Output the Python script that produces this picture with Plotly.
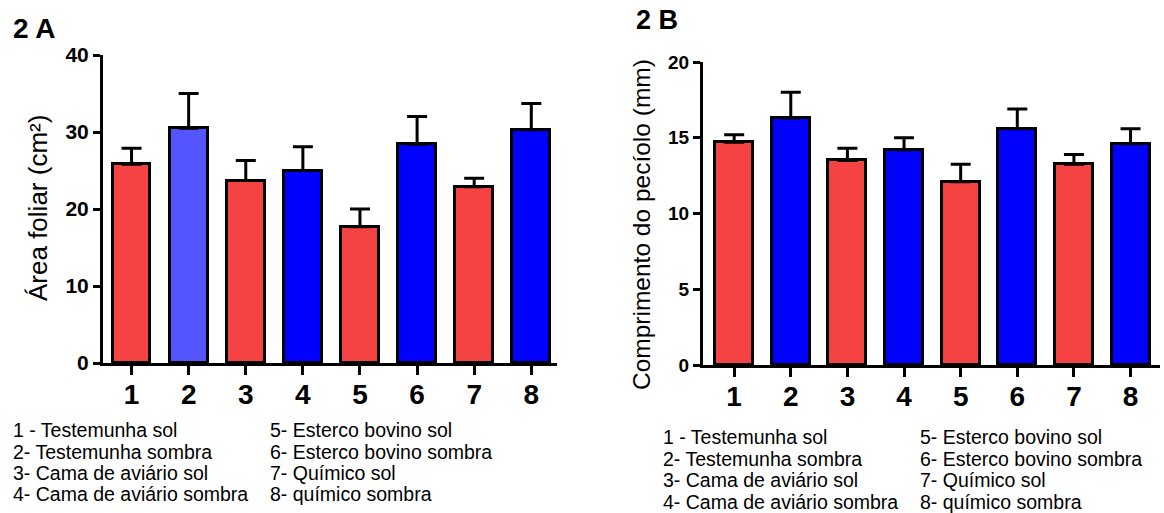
import plotly.graph_objects as go

W, H = 1164, 513

categories = [1, 2, 3, 4, 5, 6, 7, 8]
tick_labels = ["1", "2", "3", "4", "5", "6", "7", "8"]

# Panel A: leaf area (cm2), mean and upper error (SEM)
area_mean = [25.8, 30.5, 23.7, 25.0, 17.7, 28.4, 22.9, 30.3]
area_err = [2.1, 4.5, 2.6, 3.1, 2.3, 3.6, 1.1, 3.4]
area_colors = ["#F54242", "#5555FF", "#F54242", "#0000FF",
               "#F54242", "#0000FF", "#F54242", "#0000FF"]

# Panel B: petiole length (mm)
pet_mean = [14.7, 16.3, 13.5, 14.2, 12.1, 15.6, 13.25, 14.6]
pet_err = [0.5, 1.7, 0.8, 0.8, 1.15, 1.3, 0.65, 1.0]
pet_colors = ["#F54242", "#0000FF", "#F54242", "#0000FF",
              "#F54242", "#0000FF", "#F54242", "#0000FF"]

legend_left = ["1 - Testemunha sol", "2- Testemunha sombra",
               "3- Cama de aviário sol", "4- Cama de aviário sombra"]
legend_right = ["5- Esterco bovino sol", "6- Esterco bovino sombra",
                "7- Químico sol", "8- químico sombra"]

FONT = "Liberation Sans, Arial, sans-serif"


def px(x):
    return x / W


def py(y):
    return 1 - y / H


fig = go.Figure()

fig.add_trace(go.Bar(
    x=categories, y=area_mean, width=0.66,
    marker=dict(color=area_colors, line=dict(color="black", width=3)),
    error_y=dict(type="data", symmetric=False, array=area_err,
                 arrayminus=[0] * 8, color="black", thickness=3, width=10),
    xaxis="x", yaxis="y", showlegend=False))

fig.add_trace(go.Bar(
    x=categories, y=pet_mean, width=0.67,
    marker=dict(color=pet_colors, line=dict(color="black", width=3)),
    error_y=dict(type="data", symmetric=False, array=pet_err,
                 arrayminus=[0] * 8, color="black", thickness=3, width=10),
    xaxis="x2", yaxis="y2", showlegend=False))

xcommon = dict(tickmode="array", tickvals=categories, ticktext=tick_labels,
               showline=True, linecolor="black", linewidth=3,
               ticks="outside", ticklen=9, tickwidth=3, tickcolor="black",
               ticklabelstandoff=-5,
               showgrid=False, zeroline=False, automargin=False,
               tickfont=dict(family=FONT, size=28, color="black", weight="bold"))
ycommon = dict(showline=True, linecolor="black", linewidth=3,
               ticks="outside", ticklen=7, tickwidth=3, tickcolor="black",
               showgrid=False, zeroline=False, automargin=False)

fig.update_layout(
    width=W, height=H,
    margin=dict(l=0, r=0, t=0, b=0, pad=0),
    paper_bgcolor="white", plot_bgcolor="white",
    bargap=0,
    xaxis=dict(domain=[px(103), px(557)], range=[0.5, 8.45], anchor="y", **xcommon),
    yaxis=dict(domain=[py(363), py(55)], range=[0, 40], tickvals=[0, 10, 20, 30, 40],
               anchor="x",
               tickfont=dict(family=FONT, size=21, color="black", weight="bold"),
               **ycommon),
    xaxis2=dict(domain=[px(703), px(1160)], range=[0.45, 8.52], anchor="y2", **xcommon),
    yaxis2=dict(domain=[py(365), py(62)], range=[0, 20], tickvals=[0, 5, 10, 15, 20],
                anchor="x2",
                tickfont=dict(family=FONT, size=19, color="black", weight="bold"),
                **ycommon),
)

ann = []
ann.append(dict(text="2 A", x=px(11), y=py(28), xanchor="left", yanchor="middle",
                font=dict(family=FONT, size=28, color="black", weight="bold")))
ann.append(dict(text="2 B", x=px(634), y=py(20), xanchor="left", yanchor="middle",
                font=dict(family=FONT, size=27, color="black", weight="bold")))
ann.append(dict(text="Área foliar (cm²)", x=px(38), y=py(208), textangle=-90,
                xanchor="center", yanchor="middle",
                font=dict(family=FONT, size=26, color="black")))
ann.append(dict(text="Comprimento do pecíolo (mm)", x=px(641), y=py(225), textangle=-90,
                xanchor="center", yanchor="middle",
                font=dict(family=FONT, size=24.5, color="black")))

rowsA = [430, 452, 473, 494]
rowsB = [437, 459, 480, 502]
lfont = dict(family=FONT, size=19.5, color="black")
for i in range(4):
    ann.append(dict(text=legend_left[i], x=px(11), y=py(rowsA[i]), xanchor="left",
                    yanchor="middle", font=lfont))
    ann.append(dict(text=legend_right[i], x=px(268), y=py(rowsA[i]), xanchor="left",
                    yanchor="middle", font=lfont))
    ann.append(dict(text=legend_left[i], x=px(661), y=py(rowsB[i]), xanchor="left",
                    yanchor="middle", font=lfont))
    ann.append(dict(text=legend_right[i], x=px(918), y=py(rowsB[i]), xanchor="left",
                    yanchor="middle", font=lfont))

for a in ann:
    a.update(xref="paper", yref="paper", showarrow=False)
fig.update_layout(annotations=ann)

fig.write_html("out.html",
               config={"displayModeBar": False},
               post_script="document.body.style.margin='0';document.body.style.padding='0';")
